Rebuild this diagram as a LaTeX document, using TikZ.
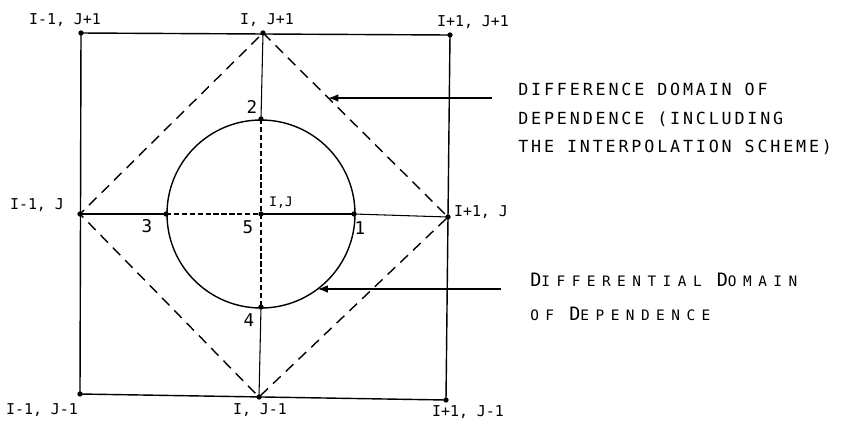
\documentclass[tikz,border=0pt]{standalone}
\usepackage{fontspec}
\usetikzlibrary{arrows.meta, positioning, calc}
\newfontfamily\gridfont{DejaVu Sans Mono}
\newfontfamily\notefont[LetterSpace=17]{DejaVu Sans Mono}
\newfontfamily\capfont[LetterSpace=45]{DejaVu Sans Mono}
\newcommand{\bigletter}[1]{{\fontsize{10.5}{12}\selectfont #1}}
\tikzset{
    squareline/.style={thick, draw=black},
    thinline/.style={semithick, draw=black},
    diamondline/.style={thick, draw=black, dash pattern=on 6pt off 4pt},
    innerdash/.style={very thick, draw=black, dash pattern=on 3pt off 1.5pt},
    gridpt/.style={circle, fill=black, inner sep=0pt, minimum size=3pt},
    lbl/.style={font=\fontsize{8.5}{10}\selectfont\gridfont, inner sep=1pt},
    num/.style={font=\fontsize{10}{12}\selectfont\gridfont, inner sep=1pt},
    note/.style={font=\fontsize{9.5}{16}\selectfont\notefont, align=left, anchor=west, inner sep=0pt},
    capnote/.style={font=\fontsize{8.2}{19}\selectfont\capfont, align=left, anchor=west, inner sep=0pt},
    arrow/.style={-Latex, semithick, draw=black}
}
\begin{document}
\begin{tikzpicture}[x=0.02cm, y=-0.02cm]
    \useasboundingbox (0,0) rectangle (853,424);
    % grid points
    \coordinate (tl) at (81,33);
    \coordinate (tm) at (263,33);
    \coordinate (tr) at (450,35);
    \coordinate (ml) at (80,214);
    \coordinate (c)  at (261,214);
    \coordinate (mr) at (448,217);
    \coordinate (bl) at (80,394);
    \coordinate (bm) at (259,397);
    \coordinate (br) at (446,400);
    % points on the circle
    \coordinate (p1) at ($(c)+(93,0)$);
    \coordinate (p2) at ($(c)+(0,-95)$);
    \coordinate (p3) at ($(c)+(-95,0)$);
    \coordinate (p4) at ($(c)+(0,93)$);

    \draw[squareline] (tl) -- (tr) -- (br) -- (bl) -- cycle;
    \draw[diamondline] (tm) -- (mr) -- (bm) -- (ml) -- cycle;
    \draw[thick] (c) circle[radius=94];

    \draw[thinline] (ml) -- (p3);
    \draw[innerdash] (p3) -- (c);
    \draw[very thick] (c) -- (p1);
    \draw[thinline] (p1) -- (mr);
    \draw[thinline] (tm) -- (p2);
    \draw[innerdash] (p2) -- (c) -- (p4);
    \draw[thinline] (p4) -- (bm);

    \foreach \p in {tl,tm,tr,ml,c,mr,bl,bm,br,p1,p2,p3,p4}
        \node[gridpt] at (\p) {};

    % grid labels
    \node[lbl] (tlL) at (65,20) {I-1, J+1};
    \node[lbl] (tmL) at (267,20) {I, J+1};
    \node[lbl] (trL) at (473,22) {I+1, J+1};
    \node[lbl] (mlL) at (37,205) {I-1, J};
    \node[lbl, font=\fontsize{7.5}{9}\selectfont\gridfont] (cL) at (281,203) {I,J};
    \node[lbl] (mrL) at (481,212) {I+1, J};
    \node[lbl] (blL) at (42,410) {I-1, J-1};
    \node[lbl] (bmL) at (260,410) {I, J-1};
    \node[lbl] (brL) at (468,412) {I+1, J-1};

    % point numbers
    \node[num] (n1) at (360,228) {1};
    \node[num] (n2) at (252,107) {2};
    \node[num] (n3) at (147,226) {3};
    \node[num] (n4) at (249,320) {4};
    \node[num] (n5) at (248,227) {5};

    % notes
    \node[note] (diffnote) at (518,119) {DIFFERENCE DOMAIN OF\\DEPENDENCE (INCLUDING\\ THE INTERPOLATION SCHEME)};
    \node[capnote] (pdenote) at (530,297)
        {\bigletter{D}IFFERENTIAL \bigletter{D}OMAIN\\OF \bigletter{D}EPENDENCE};

    \coordinate (a1) at (492,98);
    \coordinate (d1) at ($(tm)!0.353!(mr)$);
    \draw[arrow] (a1) -- (a1 -| d1);
    \coordinate (a2) at (501,289);
    \coordinate (d2) at ($(c)+(52.8:94)$);
    \draw[arrow] (a2) -- (a2 -| d2);
\end{tikzpicture}
\end{document}
